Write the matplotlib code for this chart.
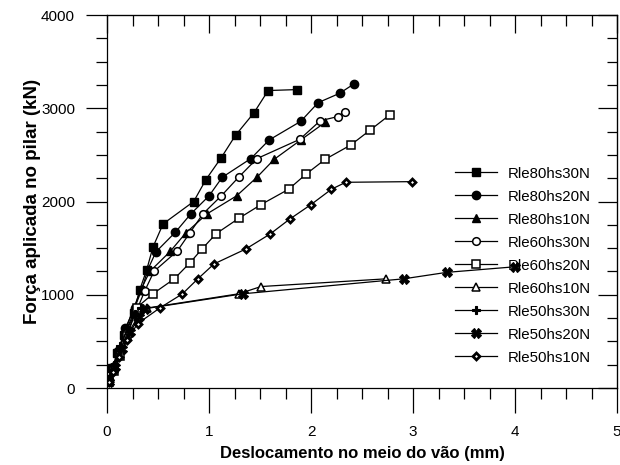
import numpy as np
import matplotlib.pyplot as plt
from matplotlib.ticker import MultipleLocator

plt.rcParams['font.family'] = ['Liberation Sans', 'DejaVu Sans']

# deslocamento (mm) / força (kN)
x_80_30 = [0.01, 0.05, 0.10, 0.17, 0.26, 0.32, 0.39, 0.45, 0.55, 0.85, 0.97, 1.12, 1.26, 1.44, 1.58, 1.86]
f_80_30 = [100, 210, 370, 570, 800, 1050, 1270, 1510, 1760, 2000, 2235, 2470, 2710, 2950, 3190, 3200]

x_80_20 = [0.02, 0.06, 0.11, 0.18, 0.27, 0.34, 0.40, 0.48, 0.67, 0.82, 1.00, 1.13, 1.41, 1.59, 1.90, 2.07, 2.28, 2.42]
f_80_20 = [90, 230, 400, 640, 860, 1050, 1270, 1460, 1670, 1865, 2060, 2260, 2460, 2660, 2860, 3060, 3160, 3260]

x_80_10 = [0.02, 0.06, 0.11, 0.18, 0.26, 0.33, 0.42, 0.62, 0.77, 0.98, 1.27, 1.47, 1.64, 1.90, 2.14]
f_80_10 = [80, 220, 380, 620, 850, 1050, 1250, 1465, 1660, 1867, 2060, 2260, 2453, 2660, 2850]

x_60_30 = [0.02, 0.07, 0.12, 0.20, 0.29, 0.37, 0.46, 0.69, 0.81, 0.94, 1.12, 1.29, 1.47, 1.89, 2.09, 2.26, 2.33]
f_60_30 = [70, 210, 380, 600, 830, 1040, 1250, 1470, 1660, 1867, 2060, 2260, 2460, 2667, 2866, 2910, 2963]

x_60_20 = [0.02, 0.07, 0.13, 0.20, 0.29, 0.45, 0.66, 0.81, 0.93, 1.07, 1.29, 1.51, 1.78, 1.95, 2.14, 2.39, 2.58, 2.77]
f_60_20 = [60, 180, 340, 560, 860, 1010, 1171, 1339, 1489, 1655, 1818, 1967, 2131, 2292, 2453, 2606, 2766, 2927]

x_60_10 = [0.02, 0.07, 0.13, 0.21, 0.30, 0.39, 1.29, 1.51, 2.74]
f_60_10 = [70, 230, 410, 590, 760, 857, 1010, 1088, 1171]

x_50_30 = [0.02, 0.07, 0.13, 0.20, 0.27, 0.33]
f_50_30 = [80, 250, 450, 640, 790, 860]

x_50_20 = [0.02, 0.08, 0.15, 0.23, 0.31, 0.37, 1.33, 2.91, 3.33, 4.0]
f_50_20 = [60, 220, 420, 600, 760, 850, 1010, 1171, 1240, 1300]

x_50_10 = [0.02, 0.06, 0.12, 0.20, 0.30, 0.52, 0.74, 0.89, 1.05, 1.36, 1.60, 1.79, 2.00, 2.20, 2.34, 2.99]
f_50_10 = [60, 170, 330, 520, 690, 860, 1010, 1170, 1331, 1490, 1652, 1810, 1967, 2131, 2206, 2213]

# name, x, y, marker, face, size, edge width
series = [
    ('Rle80hs30N', x_80_30, f_80_30, 's', 'k', 5.5, 1.0),
    ('Rle80hs20N', x_80_20, f_80_20, 'o', 'k', 6.0, 1.0),
    ('Rle80hs10N', x_80_10, f_80_10, '^', 'k', 6.0, 1.0),
    ('Rle60hs30N', x_60_30, f_60_30, 'o', 'w', 5.5, 1.1),
    ('Rle60hs20N', x_60_20, f_60_20, 's', 'w', 5.5, 1.1),
    ('Rle60hs10N', x_60_10, f_60_10, '^', 'w', 5.5, 1.1),
    ('Rle50hs30N', x_50_30, f_50_30, 'P', 'k', 6.0, 0.8),
    ('Rle50hs20N', x_50_20, f_50_20, 'X', 'k', 7.0, 0.8),
    ('Rle50hs10N', x_50_10, f_50_10, 'D', 'w', 3.5, 2.0),
]

fig = plt.figure(figsize=(6.2, 4.65), dpi=100)
ax = fig.add_axes([107/620, 1 - 388/465, 510/620, 373/465])

for name, xs, fs, mk, fc, ms, mew in series:
    ax.plot(xs, fs, color='k', lw=0.9, marker=mk, markersize=ms,
            markerfacecolor=fc, markeredgecolor='k', markeredgewidth=mew,
            label=name)

ax.set_xlim(0, 5)
ax.set_ylim(0, 4000)
ax.xaxis.set_major_locator(MultipleLocator(1))
ax.xaxis.set_minor_locator(MultipleLocator(0.25))
ax.yaxis.set_major_locator(MultipleLocator(1000))
ax.yaxis.set_minor_locator(MultipleLocator(250))
ax.tick_params(which='both', direction='out', top=False, right=False,
               labelsize=11, width=0.9)
ax.tick_params(axis='x', which='major', length=18, pad=9)
ax.tick_params(axis='x', which='minor', length=8)
ax.tick_params(axis='y', which='major', length=15, pad=8)
ax.tick_params(axis='y', which='minor', length=8)
for s in ax.spines.values():
    s.set_linewidth(0.9)

# inward ticks on top and right
top = ax.secondary_xaxis('top')
top.xaxis.set_major_locator(MultipleLocator(1))
top.xaxis.set_minor_locator(MultipleLocator(0.25))
top.tick_params(which='both', direction='in', labeltop=False, width=0.9)
top.tick_params(which='major', length=13)
top.tick_params(which='minor', length=8)
right = ax.secondary_yaxis('right')
right.yaxis.set_major_locator(MultipleLocator(1000))
right.yaxis.set_minor_locator(MultipleLocator(250))
right.tick_params(which='both', direction='in', labelright=False, width=0.9)
right.tick_params(which='major', length=14)
right.tick_params(which='minor', length=7)

ax.set_xlabel('Deslocamento no meio do vão (mm)', fontsize=12, fontweight='bold', labelpad=5)
ax.set_ylabel('Força aplicada no pilar (kN)', fontsize=13.5, fontweight='bold', labelpad=0)

ax.legend(loc='center left', bbox_to_anchor=(0.682, 0.328), frameon=False,
          fontsize=10.8, handlelength=2.8, labelspacing=0.6, handletextpad=0.7,
          borderpad=0, borderaxespad=0)

fig.savefig('out.png', dpi=100)
